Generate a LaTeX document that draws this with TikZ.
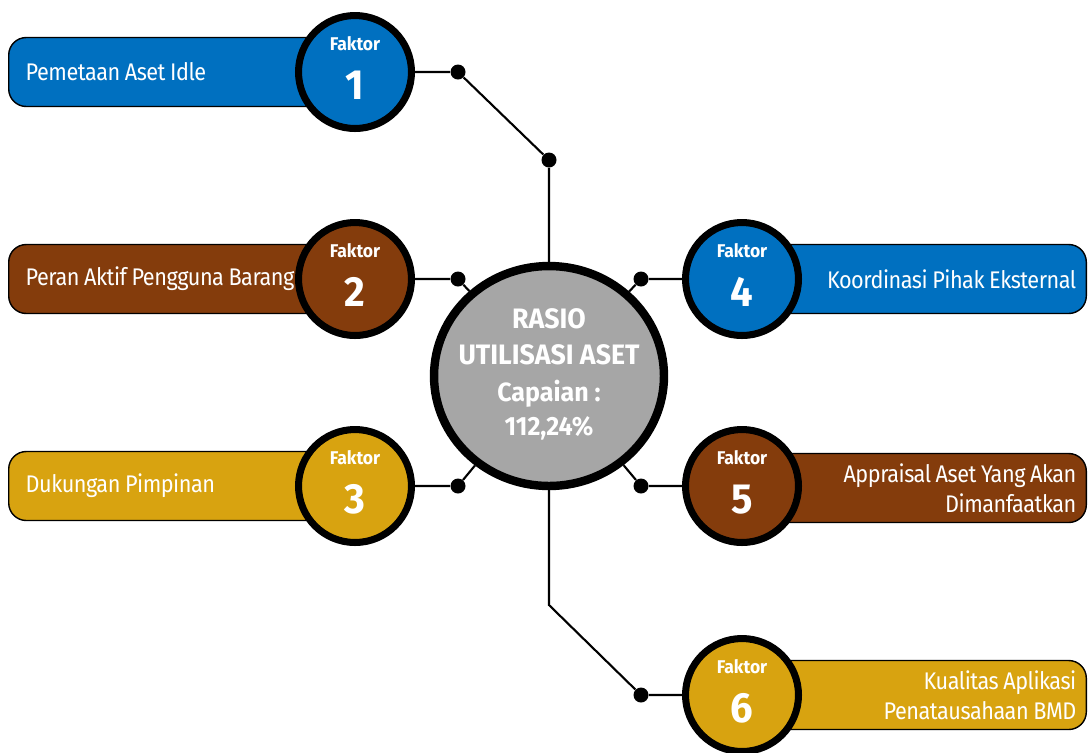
\documentclass[tikz,border=0pt]{standalone}
\usepackage{fontspec}
\setmainfont{Fira Sans}[FakeStretch=0.9, LetterSpace=-2]
\newfontfamily\hubfont{Fira Sans}[FakeStretch=0.95]
\usepackage{tikz}
\usetikzlibrary{shapes.geometric, positioning}
\definecolor{faktorblue}{RGB}{0,112,192}
\definecolor{faktorbrown}{RGB}{132,60,12}
\definecolor{faktorgold}{RGB}{216,163,16}
\definecolor{hubgray}{RGB}{166,166,166}
\newcommand{\faktorno}[1]{Faktor\\{\fontsize{24}{28}\selectfont #1\rule[-4.5pt]{0pt}{4.5pt}}}

\begin{document}
\begin{tikzpicture}[x=0.02cm, y=-0.02cm,
        bar/.style={draw, line width=0.8pt, rounded corners=10pt, minimum height=1.38cm, text=white, font=\fontsize{13.7}{17}\selectfont, execute at begin node={\spaceskip=0.19em\relax}},
        leftbar/.style={bar, anchor=west, minimum width=6.84cm, text width=6.16cm, inner xsep=0.34cm, align=left},
        rightbar/.style={bar, anchor=east, minimum width=7.04cm, text width=6.64cm, inner xsep=0.2cm, align=right},
        faktor/.style={draw, circle, line width=4pt, minimum size=2.26cm, inner sep=0pt, text=white, align=center, font=\hubfont\fontsize{10.5}{28}\selectfont\bfseries},
        hub/.style={draw, ellipse, fill=hubgray, line width=4.8pt, minimum width=4.6cm, minimum height=4.4cm, inner sep=0pt},
        hubtext/.style={text=white, align=center, font=\hubfont\fontsize{16}{21}\selectfont\bfseries},
        dot/.style={circle, fill=black, minimum size=0.3cm, inner sep=0pt},
        line/.style={draw, line width=1.2pt}]
        \useasboundingbox (0,0) rectangle (1088,752);

        % bars
        \node [leftbar, fill=faktorblue] (bar1) at (8,72) {Pemetaan Aset Idle};
        \node [leftbar, fill=faktorbrown] (bar2) at (8,279) {Peran Aktif Pengguna Barang};
        \node [leftbar, fill=faktorgold] (bar3) at (8,486) {Dukungan Pimpinan};
        \node [rightbar, fill=faktorblue] (bar4) at (1087,279) {Koordinasi Pihak Eksternal};
        \node [rightbar, fill=faktorbrown] (bar5) at (1087,488) {Appraisal Aset Yang Akan\\Dimanfaatkan};
        \node [rightbar, fill=faktorgold] (bar6) at (1087,695) {Kualitas Aplikasi\\Penatausahaan BMD};

        % faktor circles
        \node [faktor, fill=faktorblue] (f1) at (355,72) {\faktorno{1}};
        \node [faktor, fill=faktorbrown] (f2) at (355,279) {\faktorno{2}};
        \node [faktor, fill=faktorgold] (f3) at (355,486) {\faktorno{3}};
        \node [faktor, fill=faktorblue] (f4) at (742,279) {\faktorno{4}};
        \node [faktor, fill=faktorbrown] (f5) at (742,486) {\faktorno{5}};
        \node [faktor, fill=faktorgold] (f6) at (742,695) {\faktorno{6}};

        % center
        \node [hub] (hub) at (549,376) {};
        \node [hubtext] (hubtxt) at (549,374) {RASIO\\UTILISASI ASET\\{\fontsize{15}{19}\selectfont Capaian :}\\[-2pt]{\fontsize{15}{19}\selectfont 112,24\%}};

        % dots
        \node [dot] (d1) at (458,72) {};
        \node [dot] (j1) at (549,160) {};
        \node [dot] (d2) at (458,279) {};
        \node [dot] (d3) at (458,486) {};
        \node [dot] (d4) at (641,279) {};
        \node [dot] (d5) at (641,486) {};
        \node [dot] (d6) at (641,695) {};
        \coordinate (b6) at (549,605);

        % connectors
        \path [line] (f1) -- (d1) -- (j1) -- (hub);
        \path [line] (f2) -- (d2) -- (hub);
        \path [line] (f3) -- (d3) -- (hub);
        \path [line] (f4) -- (d4) -- (hub);
        \path [line] (f5) -- (d5) -- (hub);
        \path [line] (hub) -- (b6) -- (d6) -- (f6);
    \end{tikzpicture}
\end{document}
